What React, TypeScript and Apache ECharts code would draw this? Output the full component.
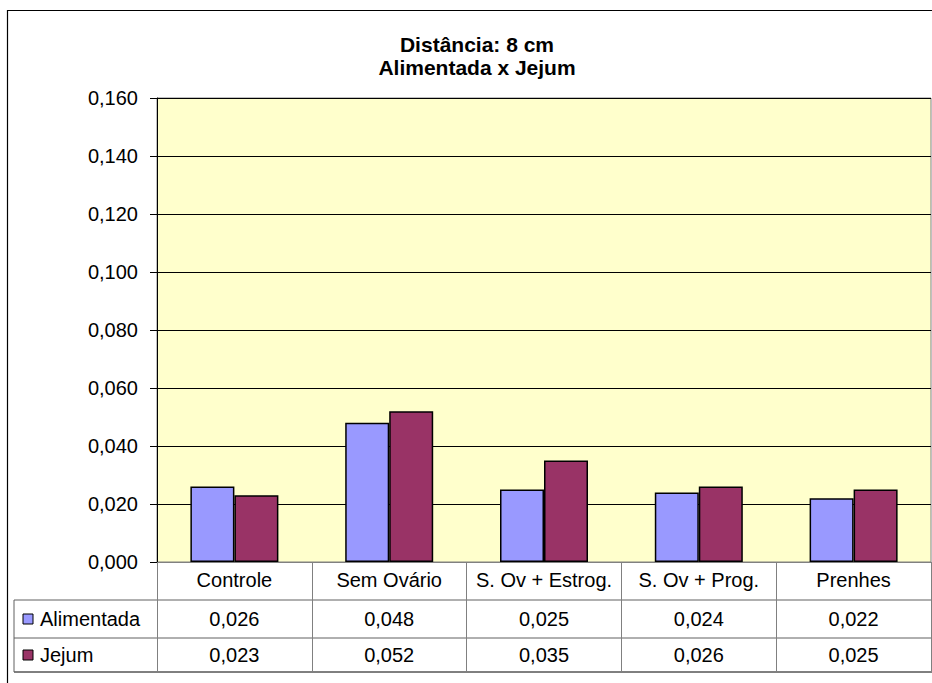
import React, { useEffect, useRef } from "react";
import * as echarts from "echarts";

// Mean values per group, feeding the bars and the data table below the axis
const categories = ["Controle", "Sem Ovário", "S. Ov + Estrog.", "S. Ov + Prog.", "Prenhes"];
const alimentada = [0.026, 0.048, 0.025, 0.024, 0.022];
const jejum = [0.023, 0.052, 0.035, 0.026, 0.025];
const seriesNames = ["Alimentada", "Jejum"];
const seriesColors = ["#9999FF", "#993366"];
const titleLines = ["Distância: 8 cm", "Alimentada x Jejum"];

const FONT = '"Liberation Sans", Arial, sans-serif';
const LABEL_SIZE = 20;
const fmt = (v: number) => v.toFixed(3).replace(".", ",");

const GRID = { left: 157, top: 98, width: 774, height: 464 };
const TABLE_LEFT = 14;
const ROW_LINES = [600, 638, 672];

export default function App() {
  const ref = useRef<HTMLDivElement>(null);

  useEffect(() => {
    if (!ref.current) return;
    const chart = echarts.init(ref.current, undefined, { renderer: "svg" });
    const seriesData = [alimentada, jejum];

    chart.setOption({
      animation: false,
      backgroundColor: "#ffffff",
      grid: {
        left: GRID.left,
        top: GRID.top,
        width: GRID.width,
        height: GRID.height,
        show: true,
        backgroundColor: "#FFFFCC",
        borderColor: "#808080",
        borderWidth: 1,
      },
      xAxis: {
        type: "category",
        data: categories,
        boundaryGap: true,
        axisLine: { lineStyle: { color: "#808080", width: 1 } },
        axisTick: {
          show: true,
          inside: false,
          length: ROW_LINES[2] - (GRID.top + GRID.height),
          lineStyle: { color: "#808080", width: 1 },
        },
        axisLabel: {
          color: "#000",
          fontFamily: FONT,
          fontSize: LABEL_SIZE,
          margin: 8,
          interval: 0,
        },
      },
      yAxis: {
        type: "value",
        min: 0,
        max: 0.16,
        interval: 0.02,
        axisLine: { show: true, lineStyle: { color: "#000", width: 1 } },
        axisTick: { show: true, length: 7, lineStyle: { color: "#000" } },
        axisLabel: {
          color: "#000",
          fontFamily: FONT,
          fontSize: LABEL_SIZE,
          margin: 19,
          formatter: (v: number) => fmt(v),
        },
        splitLine: { show: true, lineStyle: { color: "#000", width: 1 } },
      },
      series: seriesNames.map((name, i) => ({
        name,
        type: "bar",
        data: seriesData[i],
        barWidth: 44,
        barGap: "0%",
        itemStyle: {
          color: seriesColors[i],
          borderColor: "#000",
          borderWidth: 1.5,
        },
      })),
    });

    // Data table drawn beneath the category axis
    const rowCenters = [
      (ROW_LINES[0] + ROW_LINES[1]) / 2,
      (ROW_LINES[1] + ROW_LINES[2]) / 2,
    ];
    const elements: any[] = [];

    // outer chart frame
    elements.push({
      type: "rect",
      shape: { x: 7.5, y: 10.5, width: 1000, height: 1000 },
      style: { fill: "none", stroke: "#000", lineWidth: 1.2 },
      silent: true,
    });

    // title
    elements.push({
      type: "text",
      style: {
        text: titleLines.join("\n"),
        x: 477,
        y: 56,
        align: "center",
        verticalAlign: "middle",
        font: `bold 21px ${FONT}`,
        lineHeight: 23,
        fill: "#000",
      },
    });

    ROW_LINES.forEach((y, i) => {
      elements.push({
        type: "line",
        shape: { x1: TABLE_LEFT, y1: y, x2: 932, y2: y },
        style: { stroke: i === 2 ? "#000" : "#606060", lineWidth: 1 },
      });
    });
    elements.push({
      type: "line",
      shape: { x1: TABLE_LEFT, y1: ROW_LINES[0], x2: TABLE_LEFT, y2: ROW_LINES[2] },
      style: { stroke: "#606060", lineWidth: 1 },
    });

    seriesNames.forEach((name, r) => {
      const cy = rowCenters[r];
      elements.push({
        type: "rect",
        shape: { x: 23, y: cy - 5, width: 10, height: 10 },
        style: { fill: seriesColors[r], stroke: "#000", lineWidth: 1 },
      });
      elements.push({
        type: "text",
        style: {
          text: name,
          x: 40,
          y: cy,
          align: "left",
          verticalAlign: "middle",
          font: `${LABEL_SIZE}px ${FONT}`,
          fill: "#000",
        },
      });
      seriesData[r].forEach((v, c) => {
        const px = chart.convertToPixel({ xAxisIndex: 0 }, categories[c]) as number;
        elements.push({
          type: "text",
          style: {
            text: fmt(v),
            x: px,
            y: cy,
            align: "center",
            verticalAlign: "middle",
            font: `${LABEL_SIZE}px ${FONT}`,
            fill: "#000",
          },
        });
      });
    });

    chart.setOption({ graphic: { elements } });

    return () => chart.dispose();
  }, []);

  return (
    <div
      ref={ref}
      style={{ position: "fixed", left: 0, top: 0, width: 932, height: 683 }}
    />
  );
}
